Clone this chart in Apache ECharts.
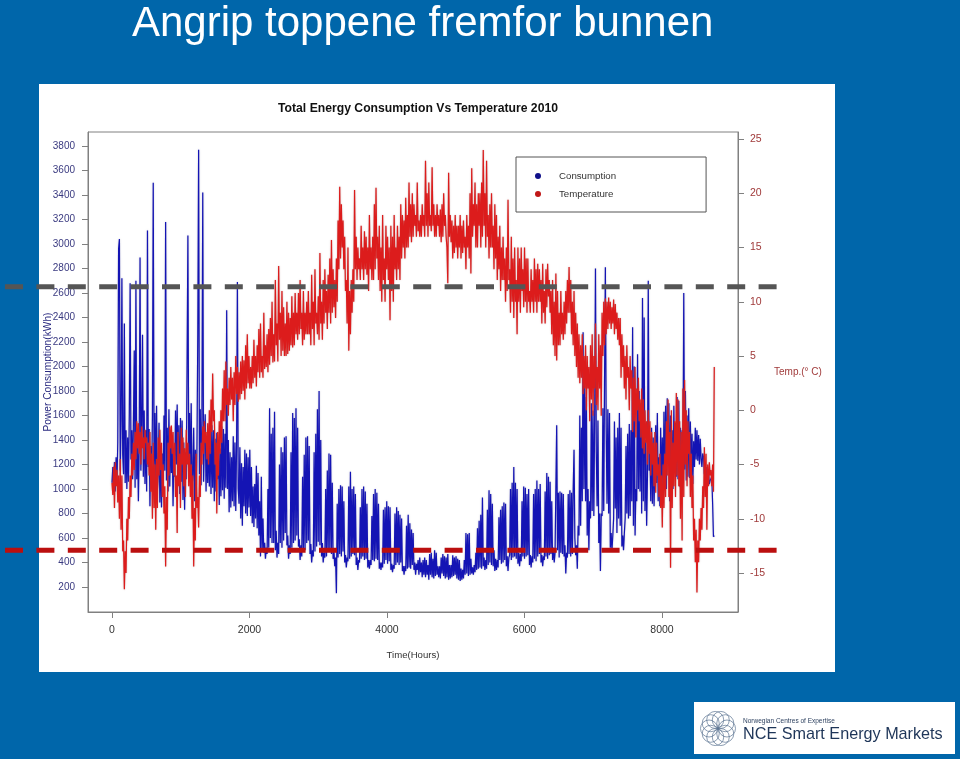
<!DOCTYPE html>
<html><head><meta charset="utf-8">
<style>html,body{margin:0;padding:0;background:#0066aa}#c{width:960px;height:759px}</style>
<script src="https://cdn.jsdelivr.net/npm/echarts@6/dist/echarts.min.js"></script>
</head><body><div id="c"></div>
<script>
const xTicks=[0,2000,4000,6000,8000];
const powerTicks=[200,400,600,800,1000,1200,1400,1600,1800,2000,2200,2400,2600,2800,3000,3200,3400,3600,3800];
const tempTicks=[-15,-10,-5,0,5,10,15,20,25];
const peakLevelKwh=2650, baseLevelKwh=500;
const stepHours=12;
// half-day readings, one row per week of 2010
const consumption=[
[1050,1180,1010,1220,980,1260,1040,1380,2960,3040,1150,1560,2720,1280],
[1120,2350,1050,1480,1000,1420,1060,1620,2680,1240,1480,1080,1560,2130],
[1010,2700,1080,1420,900,1380,2890,1150,1550,2260,1100,1640,1040,1480],
[980,3110,1180,1490,860,1350,1020,1590,3500,1130,1620,1060,1680,1000],
[1120,1540,890,1310,850,1290,1050,1600,1150,3180,1070,1500,980,1650],
[1020,1480,1130,1400,860,1260,1100,1640,1200,1690,1040,1520,960,1580],
[1060,1560,910,1380,830,1300,1080,2010,3070,1180,1620,1050,1700,1010],
[1100,1500,900,1320,860,1350,2270,3770,1120,1650,1030,1580,3420,1060],
[1400,1610,980,1380,1050,1420,1020,1570,960,1520,1010,1480,900,1410],
[980,1460,1080,1380,870,1330,940,1510,990,1490,920,1450,1010,2460],
[1000,1400,810,1300,850,1260,900,1430,860,1380,820,1350,2690,1000],
[880,1340,760,1210,700,1180,860,1320,800,1290,780,1260,850,1320],
[780,1180,720,1020,690,1040,760,1190,680,1130,620,900,450,1100],
[500,760,480,560,430,520,470,1000,520,1660,600,1450,560,1500],
[560,1630,500,660,440,560,470,1200,560,1340,520,1300,580,1420],
[640,1430,540,620,430,540,470,1300,520,1620,560,1580,580,1660],
[620,1500,530,590,420,540,450,1100,500,1280,500,1420,560,1430],
[580,1350,470,550,400,500,450,1300,490,1450,530,1650,570,1800],
[540,1400,450,560,400,480,440,1000,450,1150,490,1290,510,1280],
[470,1050,430,500,370,440,150,880,440,1000,470,1030,450,1020],
[490,900,400,460,360,440,410,1020,430,1140,450,1000,470,1020],
[460,960,380,440,340,420,400,850,430,1000,450,1020,420,980],
[430,880,360,420,350,420,380,780,420,960,410,1000,430,970],
[420,880,350,400,340,400,360,830,390,850,420,900,390,860],
[410,850,340,390,320,380,350,800,380,850,400,820,380,790],
[400,760,330,370,300,370,330,700,350,790,360,720,350,670],
[380,640,340,400,300,390,340,420,300,440,320,400,280,420],
[300,440,280,420,300,380,260,470,300,480,280,430,270,500],
[290,480,300,370,280,370,270,440,310,470,290,450,270,440],
[280,470,260,380,270,380,280,460,290,440,300,450,270,430],
[260,420,250,350,260,340,270,420,300,640,310,630,290,640],
[300,430,310,360,300,380,320,480,340,680,350,740,360,790],
[350,930,370,440,340,420,350,830,380,990,400,960,380,880],
[370,500,330,430,340,420,360,770,420,830,390,860,400,890],
[420,880,370,450,330,440,460,1000,420,1050,440,1180,450,1050],
[430,1000,390,480,370,470,410,900,450,1020,430,1010,450,960],
[460,1000,380,460,360,450,400,960,430,1000,410,1070,450,1000],
[470,1040,400,460,370,450,420,980,450,1130,430,1100,460,1060],
[470,900,420,520,400,480,480,1520,500,970,440,980,480,970],
[470,960,450,540,310,480,440,960,470,990,450,970,470,1000],
[1320,600,460,540,350,700,620,1600,700,1500,900,2280,1000,1900],
[900,1750,620,1000,500,900,760,1700,820,1640,780,1560,2800,1300],
[860,1560,560,800,330,800,780,1660,820,1900,2810,1500,880,1650],
[800,1620,520,640,500,620,760,1550,840,1420,640,1500,760,1620],
[700,1500,530,620,500,640,760,1350,800,1450,760,1530,780,1480],
[900,2320,700,2000,620,1000,900,2100,1000,1800,980,1700,800,2560],
[900,2400,820,1400,700,1100,2700,1150,1320,900,1500,880,1420,860],
[1180,1520,1050,1620,900,1260,860,1500,1030,1420,960,1630,1020,1680],
[1000,1740,1280,1700,900,1600,1130,1480,1000,1680,1180,1540,1100,1750],
[1080,1720,1020,1500,1000,1480,1120,2600,1160,1800,1070,1600,1100,1660],
[1090,1550,1150,1450,1040,1390,1180,1500,1240,1480,1230,1440,1200,1410],
[1250,1180,1290,1260,1120,1200,1030,1180,1100,1150,1040,1070,1080,1100],
[880,610,620]];
const temperature=[
[-6.7,-7.8,-5.2,-9,-4.8,-7,-5.5,-8.5,-6,-10,-4.5,-11,-6,-13],
[-12,-16.5,-13,-15,-10,-12,-8,-10,-6,-8,-4,-6,-3,-5.5],
[-2,-4.5,-1,-3.5,-1.2,-4,-2,-5,-1.5,-3.5,-2.5,-4.5,-1.8,-3],
[-2.5,-5,-3,-6,-2,-7.5,-4,-10,-3,-9,-5,-11,-4.5,-9],
[-2.5,-6,-1.8,-5.5,-3,-8,-5,-9.5,-7,-14.4,-8,-11,-3,-6],
[-1.5,-3.5,-1.4,-4,-2,-6,-3,-8,-6,-11.3,-2,-7,-4,-9],
[-1.6,-5,-2.5,-7,-3.5,-8,-1.8,-5,-3,-7,-4,-8,-5,-10],
[-6,-14.4,-9,-12,-4,-9,-8,-10.8,-6,-8,-3,-5,-1.5,-4],
[-1,-3,-2,-4.5,-1.2,-5,0,-4,1,-2,3.4,-1,0,-5],
[-3,-9.5,-2,-6,-1,-4,0,-3,2,-1,3.7,-1,4.5,0.5],
[2,-0.5,3,0.5,4,1,3,-1,3.5,0.5,5,1.5,4,0.8],
[3.5,1,4.5,1.5,5,1.8,4.6,1,6,2,7,2.5,5,2],
[4,2,5,2.5,6.5,3,5,2.2,6,3.5,7.5,3,8,3.5],
[5,3,9,3.8,6,4,7,3.5,7.5,4.2,8.5,5,10,4.4],
[7,4.5,12,6,8,4.5,13.3,6.5,9,5,11,5.5,9.5,5],
[8,5,10,5.2,9,5.5,8.5,6,10.5,5.8,9,6,10.8,7],
[9,6.5,10.8,7,12,7.5,9,6,11,6.5,9,7,10,7],
[11,7,9,6,12.5,7.5,10,6,13,8,9,7,10.5,6.5],
[14.5,8,10,6.5,12,8,13,9,11,7.5,12.5,9,14,8],
[15.7,9,13,9.5,12,8.5,14,10,17.5,13,20.6,14,19,15],
[17.5,13,16,11,12,8,15,5.5,11,7,12,9,13,10],
[20.3,13,16,12,15,13,14,12,17,13,15,12,16.5,13],
[16,12.5,15,11,18,13,15,12,16,12,19,13,20.5,14],
[16,12,17,11,15,10,18,12,14,10,17,13,16,12],
[15,8.3,17,11,16,10,18,13,15,12,17,13,16,12],
[19,14,18,15,17.5,14,19.6,15,18,15,21,16,19,15.5],
[20,16,19,17,18,16,21,16.5,17.5,16,18,16,19,17],
[18,16,23,17,20,16,21,17,18,16.5,22.4,17,19,16],
[18,16,19,17,18,16,18.5,15.5,19,16,20,17,18,16],
[15,11.7,21.9,16,18,15.5,17.5,14,17,14.5,18,15,17,14],
[17,15,18,14,17,14.5,17.5,15,16,13,18,15,17,14],
[20,12.6,22.3,16,19,17,21,15,19,15,20,17,20,15],
[21,16,24,17,20,15,23,16,18,14,19,15,20,15],
[17,13,19,14,18,12,16,13,17,11,15,12,16,12],
[14,10,15,11,19.4,12,13,9,16,10,14,8.5,15,10],
[12,7,15,10,14,9,15,11,13,9.5,15,10,14,9],
[14,10,11,9,13,10,12,9,14,10,13,9,13.5,10],
[13,10,12,8,13.5,9,11,8,13,9.5,13.5,10.5,12,9],
[11,7,12,6,10,5,12.6,4.6,11,6,9,6,11,7],
[9,6.5,10,7,11,8,12,9,13.2,9,12,7,10,6],
[11,5,9,4,8,3,7,2.5,6,3,7,1.5,5,2],
[6,0,5,2,4,-1,6,1,7,-0.5,5,2,8,0.5],
[4,0,7,2,6,-0.5,9,5,10,6,10.3,7,10,7.5],
[10.4,8,10,7.5,9.5,8,10.2,7,9.8,7.5,9,6.5,8.5,6],
[8.5,3,7,4,6,2,5,1,6,3,4,0,5,2],
[3.7,-2,3,-1,4,-2.5,2,0,3,-1,1,-2.5,2,-3.5],
[1,-4,0,-3,-1,-5,0,-4,-1,-6,-2,-5,-3,-7],
[-2,-7.6,-3,-6,-5,-8,-4,-9,-6,-10.8,-5,-9,-4,-8],
[-1,-6,1,-8,-2,-14.5,0,-9,-3,-7,-1,-8,1.6,-6],
[1,-7,-1,-10,-2,-12,2,-8,2.8,-5,0,-7,-1,-4],
[-2,-8,-4,-9,-6,-12,-10,-14,-11,-16.8,-12,-14,-10,-12],
[-9,-11,-7,-9,-3.4,-8,-4,-11,-5,-7,-4.8,-6,-5.5,-7],
[-5,-7.5,4]];

const pairs=rows=>rows.flat().map((v,i)=>[i*stepHours,v]);
const plain=v=>String(v);
const font='"Liberation Sans",Arial,sans-serif';
const chart=echarts.init(document.getElementById('c'),null,{renderer:'canvas'});
const logoParts=[{type:'rect',shape:{x:694,y:702,width:261,height:52},style:{fill:'#ffffff'},z:5}];
for(let k=0;k<10;k++){const a=k*Math.PI/5;
 logoParts.push({type:'circle',shape:{cx:718+9*Math.cos(a),cy:728.5+9*Math.sin(a),r:8.5},style:{fill:'none',stroke:'#5a7390',lineWidth:0.7},z:6});}
const axisLineStyle={onZero:false,lineStyle:{color:'#808080',width:1}};
chart.setOption({
 animation:false,
 backgroundColor:'#0066aa',
 textStyle:{fontFamily:font},
 title:[
  {text:'Angrip toppene fremfor bunnen',left:127,top:-2,textStyle:{color:'#ffffff',fontSize:42,fontWeight:'normal',fontFamily:font}},
  {text:'Total Energy Consumption Vs Temperature 2010',left:413,textAlign:'center',top:98,textStyle:{color:'#111111',fontSize:12.2,fontWeight:'bold',fontFamily:font}}
 ],
 grid:{left:88,right:222,top:132,bottom:147,show:false},
 legend:{left:516,top:157,orient:'vertical',icon:'circle',itemWidth:32,itemHeight:6,itemGap:8,
  padding:[14,90,13,19],borderColor:'#555555',borderWidth:1,
  textStyle:{fontSize:9.7,color:'#333333',fontFamily:font},
  data:['Consumption','Temperature']},
 xAxis:{type:'value',min:-349,max:9105,splitLine:{show:false},
  axisLine:axisLineStyle,
  axisTick:{customValues:xTicks,length:6,lineStyle:{color:'#808080'}},
  axisLabel:{customValues:xTicks,formatter:plain,color:'#333333',fontSize:10.5,margin:13},
  name:'Time(Hours)',nameLocation:'middle',nameGap:38,nameMoveOverlap:false,nameTextStyle:{color:'#333333',fontSize:9.6}},
 yAxis:[
  {type:'value',position:'left',min:-4,max:3914,splitLine:{show:false},
   axisLine:{show:true,...axisLineStyle},
   axisTick:{show:true,customValues:powerTicks,length:6,lineStyle:{color:'#808080'}},
   axisLabel:{customValues:powerTicks,formatter:plain,color:'#3a3a80',fontSize:10,margin:13},
   name:'Power Consumption(kWh)',nameLocation:'middle',nameGap:35,nameMoveOverlap:false,nameTextStyle:{color:'#2a2a80',fontSize:10.2}},
  {type:'value',position:'right',min:-18.59,max:25.65,splitLine:{show:false},
   axisLine:{show:true,...axisLineStyle},
   axisTick:{show:true,customValues:tempTicks,length:6,lineStyle:{color:'#808080'}},
   axisLabel:{customValues:tempTicks,formatter:plain,color:'#a03a3a',fontSize:10.5,margin:12},
   name:'Temp.(° C)',nameLocation:'middle',nameRotate:0,nameGap:36,nameMoveOverlap:false,
   nameTextStyle:{color:'#a03a3a',fontSize:10,align:'left'}}
 ],
 series:[
  {name:'Consumption',type:'line',yAxisIndex:0,showSymbol:false,symbol:'none',sampling:false,z:3,
   data:pairs(consumption),itemStyle:{color:'#10108a'},
   lineStyle:{color:'#1414b4',width:1.2,shadowColor:'rgba(110,110,150,0.55)',shadowBlur:1.5}},
  {name:'Temperature',type:'line',yAxisIndex:1,showSymbol:false,symbol:'none',sampling:false,z:4,
   data:pairs(temperature),itemStyle:{color:'#c01818'},
   lineStyle:{color:'#dc1c1c',width:1.2,shadowColor:'rgba(150,100,100,0.6)',shadowBlur:1.5}}
 ],
 graphic:{elements:[
  {type:'rect',shape:{x:39,y:84,width:796,height:588},style:{fill:'#ffffff'},z:-5,silent:true},
  {type:'rect',shape:{x:88,y:132,width:650,height:480},style:{fill:'none',stroke:'#808080',lineWidth:1},z:1,silent:true},
  ...logoParts,
  {type:'text',x:743,y:717.5,style:{text:'Norwegian Centres of Expertise',fill:'#2b3f5e',font:'6.5px '+font},z:6},
  {type:'text',x:743,y:726.5,style:{text:'NCE Smart Energy Markets',fill:'#1e3558',font:'16.2px '+font},z:6}
 ]}
});
const peakY=chart.convertToPixel({yAxisIndex:0},peakLevelKwh);
const baseY=chart.convertToPixel({yAxisIndex:0},baseLevelKwh);
const dash={lineDash:[18,13.4],lineWidth:5,lineCap:'butt'};
chart.setOption({graphic:{elements:[
 {id:'peakLine',type:'line',shape:{x1:5,y1:peakY,x2:778,y2:peakY},style:{stroke:'#555555',...dash},z:50,silent:true},
 {id:'baseLine',type:'line',shape:{x1:5,y1:baseY,x2:778,y2:baseY},style:{stroke:'#bb0f0f',...dash},z:50,silent:true}
]}});
</script></body></html>
